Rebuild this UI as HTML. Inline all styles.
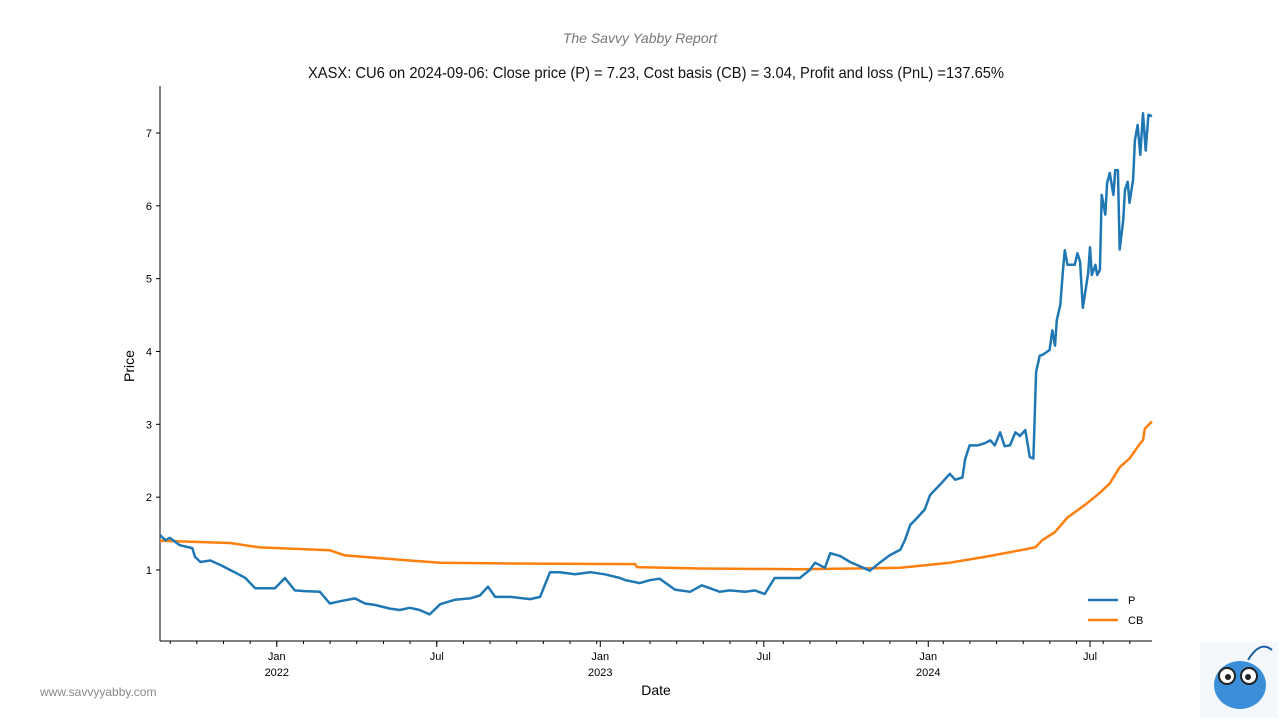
<!DOCTYPE html>
<html><head><meta charset="utf-8">
<style>
body{margin:0;background:#fff;width:1280px;height:720px;overflow:hidden;font-family:"Liberation Sans",sans-serif;}
svg text{font-family:"Liberation Sans",sans-serif;}
</style></head>
<body>
<svg id="chart" width="1280" height="720">
<text x="640" y="43" text-anchor="middle" font-size="14" font-style="italic" fill="#777" font-family="Liberation Serif, serif">The Savvy Yabby Report</text>
<text x="656" y="78" text-anchor="middle" font-size="16" fill="#111" transform="translate(656,0) scale(0.92,1) translate(-656,0)">XASX: CU6 on 2024-09-06: Close price (P) = 7.23, Cost basis (CB) = 3.04, Profit and loss (PnL) =137.65%</text>
<text x="134" y="366" text-anchor="middle" font-size="14" transform="rotate(-90 134 366)">Price</text>
<text x="656" y="695" text-anchor="middle" font-size="14">Date</text>
<text x="40" y="696" font-size="12" fill="#888">www.savvyyabby.com</text>
<g id="axes"></g>
<g id="series"></g>
<g>
<line x1="1088" y1="600" x2="1118" y2="600" stroke="#1f77b4" stroke-width="2.5"/>
<text x="1128" y="604" font-size="11">P</text>
<line x1="1088" y1="620" x2="1118" y2="620" stroke="#ff7f0e" stroke-width="2.5"/>
<text x="1128" y="624" font-size="11">CB</text>
</g>
<g>
<rect x="1200" y="642" width="78" height="76" fill="#f4f7fb"/>
<ellipse cx="1240" cy="685" rx="26" ry="24" fill="#3a8fd8"/>
<circle cx="1227" cy="676" r="8" fill="#fff" stroke="#222" stroke-width="2"/>
<circle cx="1249" cy="676" r="8" fill="#fff" stroke="#222" stroke-width="2"/>
<circle cx="1228" cy="677" r="3" fill="#222"/><circle cx="1248" cy="677" r="3" fill="#222"/>
<path d="M1248 660 Q1260 640 1272 650" stroke="#1a5fa0" stroke-width="2" fill="none"/>
</g>
</svg>
<script>
const pDays=[0,6,11,22,36,39,45,56,67,83,95,106,117,128,139,150,161,178,189,200,217,228,239,256,267,278,289,300,312,328,345,356,365,373,390,412,423,434,445,462,479,495,512,518,534,545,556,573,590,603,623,634,651,662,673,684,712,723,729,740,746,757,768,779,790,801,812,824,829,835,840,851,857,868,879,885,893,896,901,910,918,924,929,935,940,946,952,957,963,968,972,975,979,983,990,993,996,998,1002,1005,1007,1010,1018,1021,1024,1027,1033,1035,1037,1041,1043,1046,1048,1052,1054,1057,1061,1063,1066,1068,1072,1074,1077,1079,1083,1085,1088,1091,1094,1097,1100,1104];
const pVals=[1.48,1.41,1.44,1.34,1.30,1.18,1.11,1.13,1.07,0.97,0.89,0.75,0.75,0.75,0.89,0.72,0.71,0.70,0.54,0.57,0.61,0.54,0.52,0.47,0.45,0.48,0.45,0.39,0.53,0.59,0.61,0.65,0.77,0.63,0.63,0.60,0.63,0.97,0.97,0.94,0.97,0.94,0.89,0.86,0.82,0.86,0.88,0.73,0.70,0.79,0.70,0.72,0.70,0.72,0.67,0.89,0.89,1.0,1.10,1.03,1.23,1.19,1.11,1.05,0.99,1.10,1.20,1.28,1.41,1.62,1.68,1.83,2.03,2.17,2.32,2.24,2.27,2.52,2.71,2.71,2.74,2.78,2.71,2.89,2.70,2.71,2.89,2.84,2.92,2.55,2.53,3.72,3.94,3.96,4.02,4.29,4.08,4.43,4.64,5.12,5.39,5.19,5.19,5.35,5.23,4.60,5.08,5.43,5.05,5.19,5.05,5.12,6.15,5.88,6.31,6.45,6.15,6.49,6.49,5.40,5.80,6.22,6.33,6.04,6.36,6.90,7.11,6.70,7.27,6.76,7.25,7.23];
const cbDays=[0,78,111,189,206,278,312,378,529,531,601,712,824,879,918,957,974,982,996,1010,1029,1046,1057,1068,1079,1091,1094,1096,1104];
const cbVals=[1.40,1.37,1.31,1.27,1.20,1.13,1.10,1.09,1.08,1.04,1.02,1.01,1.03,1.10,1.18,1.27,1.31,1.41,1.52,1.72,1.89,2.06,2.19,2.41,2.53,2.74,2.78,2.94,3.04];
const yTicks=[1,2,3,4,5,6,7];
const xTickDays=[130,308,490,672,855,1035];
const xTickLabels=["Jan","Jul","Jan","Jul","Jan","Jul"];
const yearLabels=["2022","","2023","","2024",""];

const X0=160,X1=1152,D1=1104,Y0=642.8,YS=72.83;
const xs=d=>X0+(X1-X0)*d/D1;
const ys=v=>Y0-v*YS;
const NS="http://www.w3.org/2000/svg";
const axes=document.getElementById('axes'),ser=document.getElementById('series');
function mk(tag,at,parent){const e=document.createElementNS(NS,tag);for(const k in at)e.setAttribute(k,at[k]);parent.appendChild(e);return e;}
let sp=mk('line',{x1:160,y1:86,x2:160,y2:641,stroke:'#000','stroke-width':1},axes);


let sp2=mk('line',{x1:160,y1:641,x2:1152,y2:641,stroke:'#000','stroke-width':1},axes);


yTicks.forEach(v=>{const y=ys(v);
 mk('line',{x1:156,y1:y,x2:160,y2:y,stroke:'#000'},axes);
 const t=mk('text',{x:152,y:y+4,'text-anchor':'end','font-size':11},axes);t.textContent=v;
 
 
});
const step=(xTickDays[1]-xTickDays[0])/6;
for(let d=xTickDays[0]-step*4;d<=D1+0.1;d+=step){if(d<0)continue;const x=xs(d);mk('line',{x1:x,y1:641,x2:x,y2:644,stroke:'#000'},axes);}
xTickDays.forEach((d,i)=>{const x=xs(d);
 mk('line',{x1:x,y1:641,x2:x,y2:647,stroke:'#000'},axes);
 const t=mk('text',{x:x,y:660,'text-anchor':'middle','font-size':11},axes);t.textContent=xTickLabels[i];
 
 
 if(yearLabels[i]){const t2=mk('text',{x:x,y:676,'text-anchor':'middle','font-size':11},axes);t2.textContent=yearLabels[i];
 
 }
});
function line(days,vals,color,name){
 const d=days.map((dd,i)=>(i?'L':'M')+xs(dd).toFixed(1)+' '+ys(vals[i]).toFixed(1)).join(' ');
 const p=mk('path',{d:d,fill:'none',stroke:color,'stroke-width':2.5,'stroke-linejoin':'round'},ser);
 
 
}
line(cbDays,cbVals,'#ff7f0e','cb-line');
line(pDays,pVals,'#1f77b4','p-line');
</script>
</body></html>
